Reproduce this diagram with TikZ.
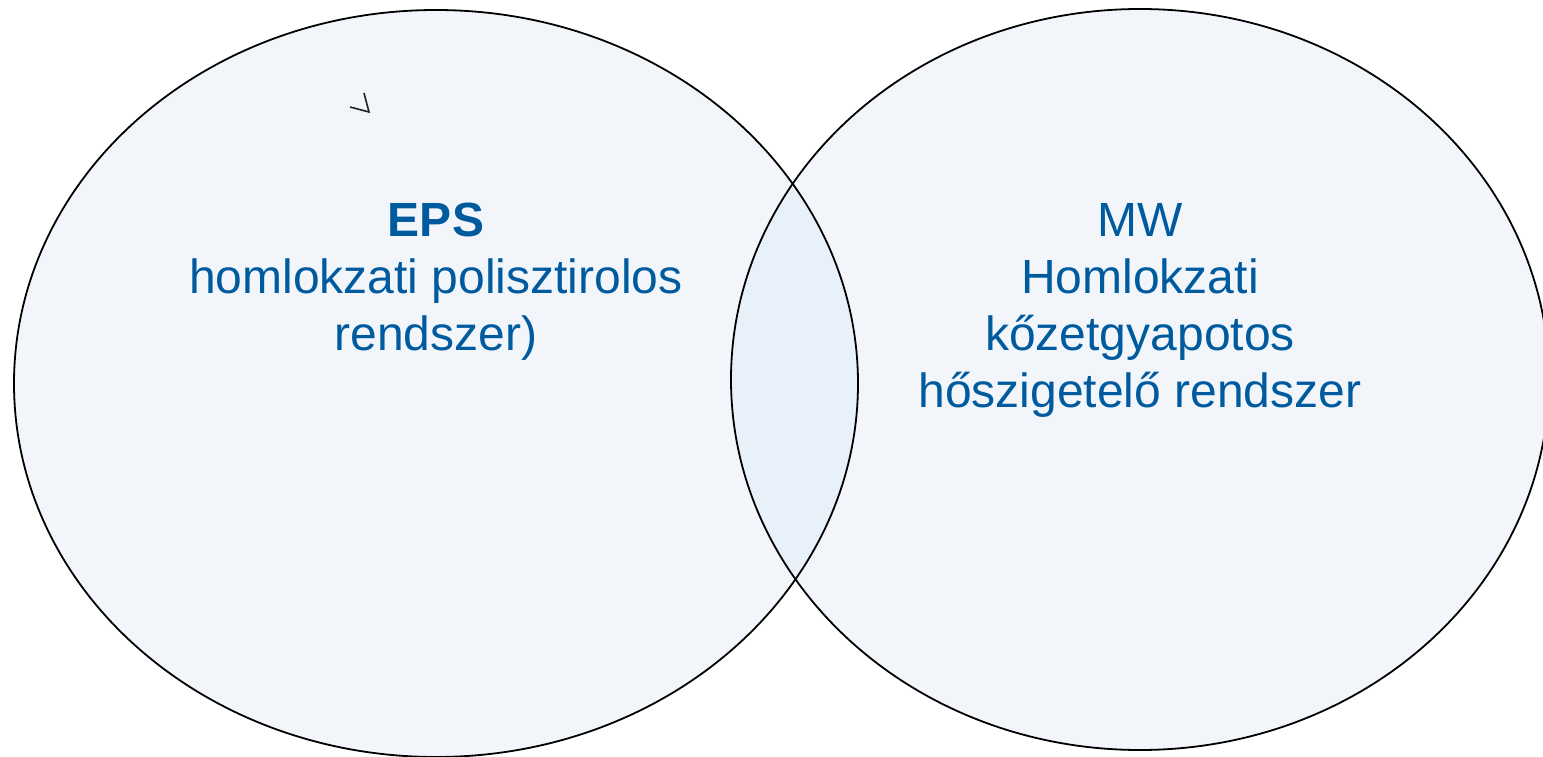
\documentclass[tikz,border=0pt]{standalone}
\usepackage{fontspec}
\setmainfont{Liberation Sans}
\definecolor{vennfill}{HTML}{F2F6FB}
\definecolor{lensfill}{HTML}{E8F0F9}
\definecolor{textblue}{HTML}{005A9E}
\definecolor{markgray}{HTML}{222222}
\tikzset{
  venntext/.style={text=textblue, align=center, inner sep=0pt, anchor=north,
    font=\fontsize{48}{57}\selectfont},
  vennline/.style={draw=black, line width=1.8pt},
}
\begin{document}
\begin{tikzpicture}[x=1pt,y=-1pt]
\useasboundingbox (0,0) rectangle (1543,757);
\coordinate (cl) at (436,383.5);
\coordinate (cr) at (1140,379.5);
% fills
\fill[vennfill] (cl) ellipse [x radius=422pt, y radius=373.5pt];
\fill[vennfill] (cr) ellipse [x radius=409pt, y radius=370.5pt];
\begin{scope}
  \clip (cl) ellipse [x radius=422pt, y radius=373.5pt];
  \fill[lensfill] (cr) ellipse [x radius=409pt, y radius=370.5pt];
\end{scope}
% outlines
\draw[vennline] (cl) ellipse [x radius=422pt, y radius=373.5pt];
\draw[vennline] (cr) ellipse [x radius=409pt, y radius=370.5pt];
% small mark
\coordinate (m1) at (350,107);
\coordinate (m2) at (369,112);
\coordinate (m3) at (364,93);
\draw[markgray, line width=1.6pt, line join=miter] (m1) -- (m2) -- (m3);
% texts
\node[venntext] (eps) at (436,203) {\textbf{EPS}\\homlokzati polisztirolos\\rendszer)};
\node[venntext] (mw) at (1140,203) {MW\\Homlokzati\\kőzetgyapotos\\hőszigetelő rendszer};
\end{tikzpicture}
\end{document}
